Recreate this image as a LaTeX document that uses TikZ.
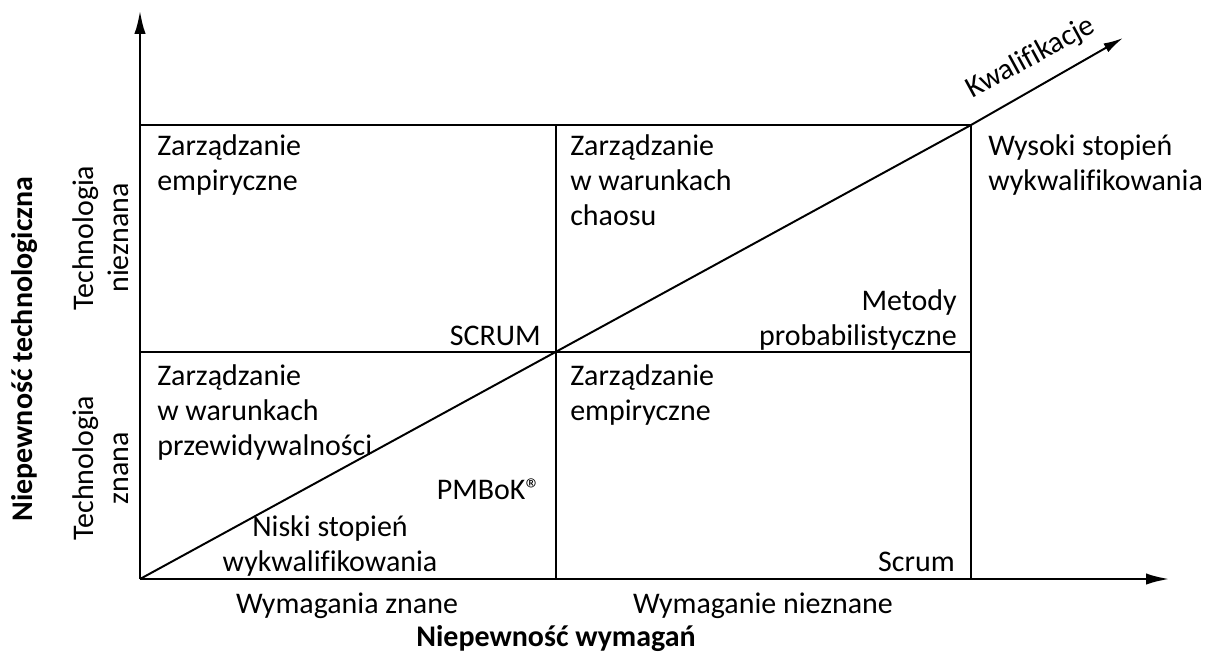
\documentclass[tikz,border=0pt]{standalone}
\usepackage{fontspec}
\setmainfont{Carlito}[Ligatures=NoCommon]
\usetikzlibrary{arrows.meta,positioning,calc}

\begin{document}
\begin{tikzpicture}[x=0.025cm,y=-0.025cm,
    every node/.style={font=\fontsize{21.3}{25}\selectfont,inner sep=0pt},
    axis/.style={line width=2.1pt,-{Latex[length=17pt,width=8pt]}},
    grid/.style={line width=1.4pt},
    lbl/.style={align=left,anchor=north west},
    rlbl/.style={align=right,anchor=north east}]
      \useasboundingbox (0,0) rectangle (1207,653);
      % corners of the grid
      \coordinate (O) at (140,579);
      \coordinate (xend) at (1170,579);
      \coordinate (yend) at (140,10);
      \coordinate (tr) at (971,125);
      \coordinate (tl) at (140,125);
      \coordinate (tm) at (556,125);
      \coordinate (bm) at (556,579);
      \coordinate (br) at (971,579);
      \coordinate (ml) at (140,352);
      \coordinate (mr) at (971,352);
      \coordinate (kend) at (1123,38);
      % grid
      \draw[grid] (tl) -- (tr) -- (br);
      \draw[grid] (tm) -- (bm);
      \draw[grid] (ml) -- (mr);
      \draw[grid] (O) -- (tr);
      \draw[grid,-{Latex[length=14pt,width=7pt]}] (tr) -- (kend);
      \draw[axis] (O) -- (yend);
      \draw[axis] (O) -- (xend);
      % quadrant texts
      \node[lbl] (emp1) at (157,134) {Zarządzanie\\empiryczne};
      \node[lbl] (chaos) at (570,134) {Zarządzanie\\w warunkach\\chaosu};
      \node[lbl] (wys) at (988,134) {Wysoki stopień\\wykwalifikowania};
      \node[rlbl] (scrum1) at (541,326) {SCRUM};
      \node[rlbl] (metody) at (957,289) {Metody\\probabilistyczne};
      \node[lbl] (przew) at (157,364) {Zarządzanie\\w warunkach\\przewidywalności};
      \node[lbl] (emp2) at (570,364) {Zarządzanie\\empiryczne};
      \node[rlbl] (pmbok) at (541,479) {PMBoK®};
      \node[align=center,anchor=north] (niski) at (330,515) {Niski stopień\\wykwalifikowania};
      \node[rlbl] (scrum2) at (955,552) {Scrum};
      % axis texts
      \node[anchor=north] (wz) at (347,593) {Wymagania znane};
      \node[anchor=north] (wn) at (763,593) {Wymaganie nieznane};
      \node[anchor=north,font=\fontsize{21.3}{25}\selectfont\bfseries] (xlab) at (556,625) {Niepewność wymagań};
      \node[rotate=90,align=center] (tn) at (101,238) {Technologia\\nieznana};
      \node[rotate=90,align=center] (tz) at (101,468) {Technologia\\znana};
      \node[rotate=90,font=\fontsize{21.3}{25}\selectfont\bfseries] (ylab) at (25,349) {Niepewność technologiczna};
      \node[rotate=28.6] (kw) at (1031,58) {Kwalifikacje};
\end{tikzpicture}
\end{document}
